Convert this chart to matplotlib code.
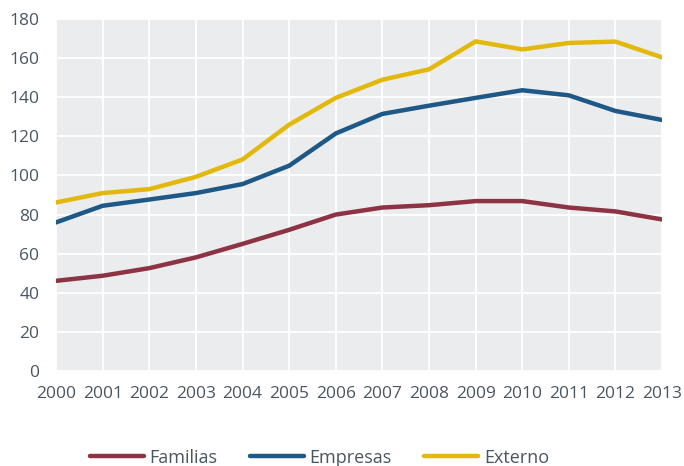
import matplotlib
matplotlib.use("Agg")
import matplotlib.pyplot as plt

years = list(range(2000, 2014))
familias = [46.1, 48.7, 52.6, 58.1, 65.0, 72.2, 80.0, 83.6, 84.8, 86.9, 86.9, 83.6, 81.6, 77.5]
empresas = [76.0, 84.5, 87.7, 91.0, 95.6, 105.0, 121.5, 131.5, 135.7, 139.7, 143.6, 141.0, 133.0, 128.4]
externo = [86.2, 91.0, 93.0, 99.3, 108.2, 126.0, 139.7, 149.0, 154.3, 168.6, 164.5, 167.8, 168.5, 160.4]

txt = '#4a5562'
plt.rcParams['font.family'] = ['Open Sans', 'DejaVu Sans']

fig = plt.figure(figsize=(6.84, 4.66), dpi=100)
ax = fig.add_axes([0.082, 0.204, 0.886, 0.755])
ax.set_facecolor('#ebecee')

ax.plot(years, familias, color='#8c3344', lw=3.2, label='Familias', solid_capstyle='round')
ax.plot(years, empresas, color='#1e5886', lw=3.2, label='Empresas', solid_capstyle='round')
ax.plot(years, externo, color='#e2b90a', lw=3.2, label='Externo', solid_capstyle='round')

ax.set_xlim(2000, 2013)
ax.set_ylim(0, 180)
ax.set_yticks(range(0, 181, 20))
ax.set_xticks(years)
ax.grid(True, color='white', lw=1.3)
ax.set_axisbelow(True)
for s in ax.spines.values():
    s.set_visible(False)
ax.tick_params(axis='y', length=0, labelsize=12.5, colors=txt, pad=12)
ax.tick_params(axis='x', length=0, labelsize=12.5, colors=txt, pad=11)

fig.legend(loc='center', bbox_to_anchor=(0.467, 0.018), ncol=3, frameon=False,
           fontsize=13, labelcolor=txt, handlelength=3.0, columnspacing=1.8,
           handletextpad=0.3)

fig.savefig('out.png', dpi=100)
